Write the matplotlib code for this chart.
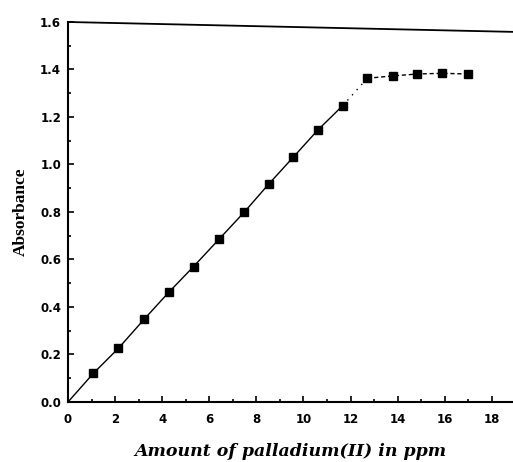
import matplotlib.pyplot as plt
from matplotlib.ticker import MultipleLocator

# Absorbance vs amount of Pd(II)
ppm = [1.08, 2.14, 3.23, 4.28, 5.33, 6.41, 7.49, 8.52, 9.56, 10.61,
       11.67, 12.71, 13.79, 14.84, 15.90, 16.99]
absorbance = [0.121, 0.226, 0.348, 0.462, 0.570, 0.685, 0.800, 0.917, 1.030, 1.145,
              1.248, 1.363, 1.373, 1.381, 1.384, 1.381]
n_linear = 11  # points on the straight (Beer's law) part

fig = plt.figure(figsize=(5.13, 4.62), dpi=100)
ax = fig.add_axes([0.1326, 0.1299, 0.8674, 0.8225])

# linear part starts at the origin
x_lin = [0] + ppm[:n_linear]
y_lin = [0] + absorbance[:n_linear]
ax.plot(x_lin, y_lin, color='black', lw=1.0)
# dotted joint to the plateau, dashed plateau
ax.plot(ppm[n_linear - 1:n_linear + 1], absorbance[n_linear - 1:n_linear + 1],
        color='black', lw=1.0, ls=(0, (1, 4)))
ax.plot(ppm[n_linear:], absorbance[n_linear:], color='black', lw=1.0, ls=(0, (3, 2)))
ax.plot(ppm, absorbance, ls='none', marker='s', ms=6, color='black')

ax.set_xlim(0, 18.9)
ax.set_ylim(0, 1.6)
ax.xaxis.set_major_locator(MultipleLocator(2))
ax.xaxis.set_minor_locator(MultipleLocator(1))
ax.yaxis.set_major_locator(MultipleLocator(0.2))
ax.yaxis.set_minor_locator(MultipleLocator(0.1))
ax.tick_params(which='both', direction='in', width=1.2, top=False, right=False)
ax.tick_params(which='major', length=4)
ax.tick_params(which='minor', length=2)
ax.tick_params(axis='x', pad=8)
ax.tick_params(axis='y', pad=5)
for lab in ax.get_xticklabels() + ax.get_yticklabels():
    lab.set_fontfamily('DejaVu Sans')
    lab.set_fontweight('bold')
    lab.set_fontsize(8.5)
ax.yaxis.set_major_formatter(plt.FuncFormatter(lambda v, p: f'{v:.1f}'))

ax.spines['right'].set_visible(False)
ax.spines['top'].set_visible(False)
for s in ['left', 'bottom']:
    ax.spines[s].set_linewidth(1.5)
# the scanned top border runs slightly downhill
ax.plot([0, 1], [1, 0.974], transform=ax.transAxes, color='black', lw=1.3, clip_on=False)

ax.set_xlabel('Amount of palladium(II) in ppm', fontfamily='DejaVu Serif',
              fontweight='bold', fontstyle='italic', fontsize=12.5, labelpad=12)
ax.set_ylabel('Absorbance', fontfamily='Liberation Serif', fontweight='bold',
              fontsize=12.5, labelpad=8)

fig.savefig('out.png', dpi=100)
